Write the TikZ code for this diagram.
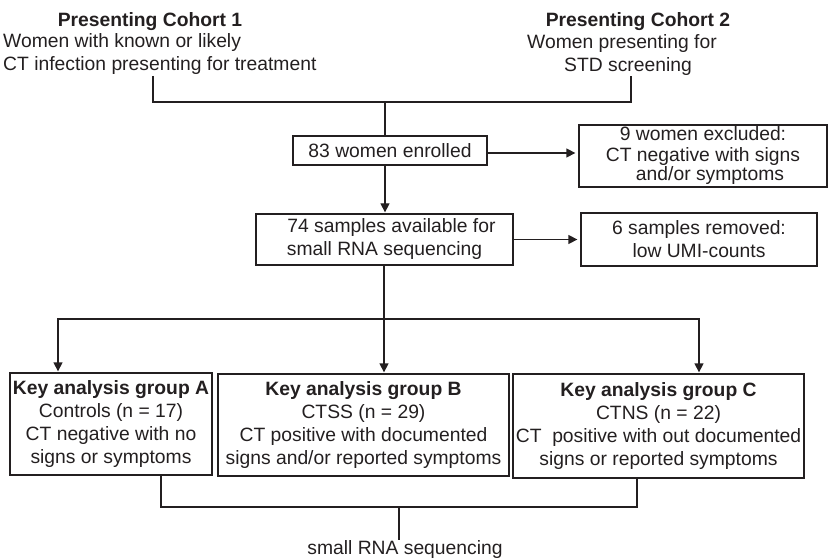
\documentclass[tikz,border=0pt]{standalone}
\usepackage{fontspec}
\setmainfont{Liberation Sans}
\usetikzlibrary{arrows.meta}
\definecolor{ink}{HTML}{231F20}
\begin{document}
\begin{tikzpicture}[x=1pt,y=-1pt,
  every node/.style={font=\fontsize{19.3}{23}\selectfont, inner sep=0pt, text=ink},
  box/.style={draw=ink, line width=1.3pt, align=center},
  conn/.style={draw=ink, line width=1.3pt},
  arr/.style={conn, -{Triangle[length=9pt,width=9pt]}}]
\useasboundingbox (0,0) rectangle (828,559);

% cohort texts
\node[anchor=base] (c1t) at (150,27) {\bfseries Presenting Cohort 1};
\node[anchor=base west] (c1a) at (3,48) {Women with known or likely};
\node[anchor=base west] (c1b) at (3,71) {CT infection presenting for treatment};
\node[anchor=base] (c2t) at (638,27) {\bfseries Presenting Cohort 2};
\node[anchor=base] (c2a) at (622,49) {Women presenting for};
\node[anchor=base] (c2b) at (628,72) {STD screening};

% boxes
\node[box, minimum width=194pt, minimum height=29pt] (enr) at (390,150.5) {83 women enrolled};
\node[box, minimum width=248pt, minimum height=62pt] (exc) at (703,156)
  {9 women excluded:\\[-2pt]CT negative with signs\\[-4pt]\hspace*{14pt}and/or symptoms};
\node[box, minimum width=257pt, minimum height=51pt] (avail) at (384.5,239.5)
  {\hspace*{14pt}74 samples available for\\small RNA sequencing};
\node[box, minimum width=236pt, minimum height=53pt] (rem) at (699,239.5)
  {6 samples removed:\\low UMI-counts};

\node[box, minimum width=202pt, minimum height=102pt] (ga) at (111,424)
  {\textbf{Key analysis group A}\\Controls (n = 17)\\CT negative with no\\signs or symptoms};
\node[box, minimum width=291pt, minimum height=102pt] (gb) at (363.5,425)
  {\textbf{Key analysis group B}\\CTSS (n = 29)\\CT positive with documented\\signs and/or reported symptoms};
\node[box, minimum width=291pt, minimum height=104pt] (gc) at (658.5,426)
  {\textbf{Key analysis group C}\\CTNS (n = 22)\\CT\ \ positive with out documented\\signs or reported symptoms};

\node[anchor=base] (seq) at (405,554) {small RNA sequencing};

% top bracket
\coordinate (b1) at (153,76);
\coordinate (b2) at (631,76);
\coordinate (j1) at (385,102);
\draw[conn] (b1) -- (b1 |- j1) -- (b2 |- j1) -- (b2);
\draw[conn] (j1) -- (enr.north -| j1);

% arrows
\coordinate (e1) at ([yshift=-2.5pt]enr.east);
\draw[arr, shorten >=3pt] (e1) -- (exc.west |- e1);
\draw[arr, shorten >=1pt] (enr.south -| j1) -- (avail.north -| j1);
\draw[arr, shorten >=3pt] (avail.east) -- (rem.west |- avail.east);

\coordinate (sp) at (384,319);
\coordinate (la) at (58,319);
\coordinate (lc) at (699,319);
\draw[conn] (avail.south -| sp) -- (sp);
\draw[arr, shorten >=1pt] (sp) -- (la) -- (ga.north -| la);
\draw[arr, shorten >=1pt] (sp) -- (gb.north -| sp);
\draw[arr, shorten >=1pt] (sp) -- (lc) -- (gc.north -| lc);

% bottom bracket
\coordinate (ma) at (161,507);
\coordinate (mc) at (637,507);
\coordinate (mm) at (399,507);
\draw[conn] (ga.south -| ma) -- (ma) -- (mc) -- (gc.south -| mc);
\draw[conn] (mm) -- (seq.north -| mm);
\end{tikzpicture}
\end{document}
